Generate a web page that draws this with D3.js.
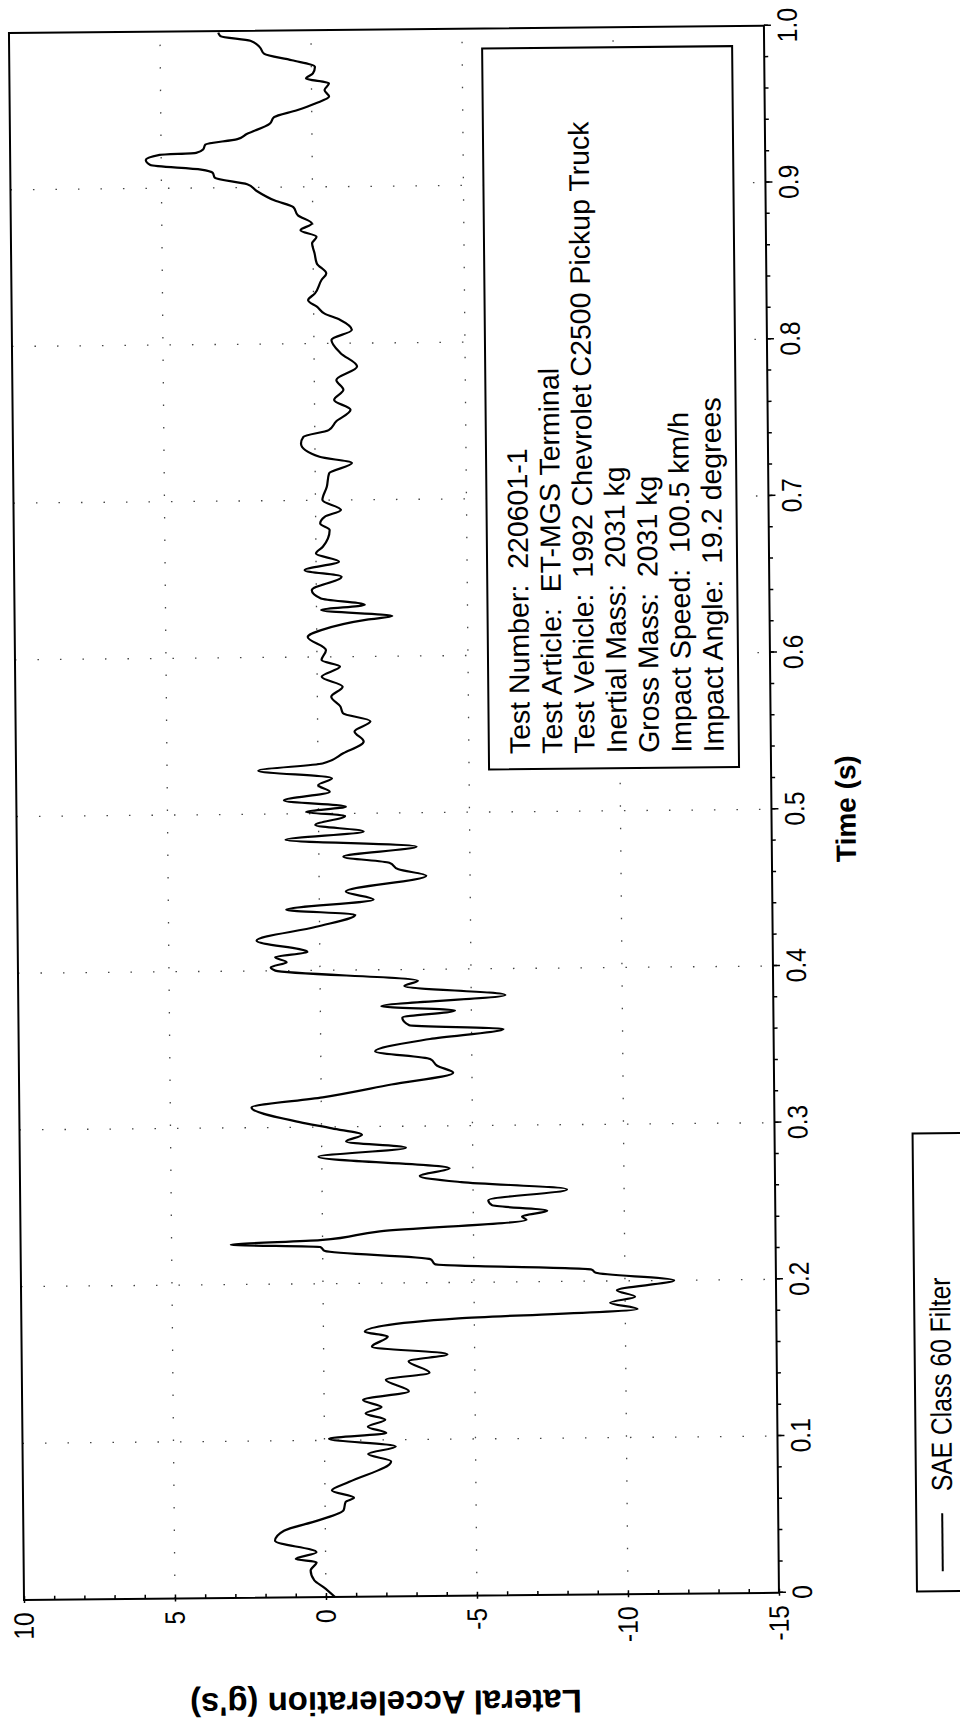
<!DOCTYPE html>
<html>
<head>
<meta charset="utf-8">
<script src="https://cdn.jsdelivr.net/npm/d3@7"></script>
<style>
  html, body { margin: 0; padding: 0; background: #fff; }
  svg { display: block; }
  text { font-family: "Liberation Sans", Arial, sans-serif; fill: #000; }
</style>
</head>
<body>
<svg id="chart" width="960" height="1723"></svg>
<script>
// Lateral acceleration trace (SAE Class 60 filtered), time in seconds
const timeS = [
  0.000, 0.0064, 0.0107, 0.017, 0.0223, 0.0245, 0.0287, 0.0362, 0.0426, 0.049,
  0.0553, 0.0606, 0.0632, 0.068, 0.0734, 0.0862, 0.091, 0.0957, 0.101, 0.1043,
  0.1085, 0.1128, 0.117, 0.1209, 0.1255, 0.1308, 0.1383, 0.1426, 0.150, 0.1542,
  0.1595, 0.1659, 0.1691, 0.1728, 0.177, 0.1819, 0.1861, 0.1898, 0.194, 0.200,
  0.2053, 0.2074, 0.2117, 0.2149, 0.2208, 0.2234, 0.2255, 0.2278, 0.2331, 0.2395,
  0.2417, 0.2452, 0.2491, 0.2523, 0.2587, 0.264, 0.2682, 0.2729, 0.281, 0.2863,
  0.2906, 0.2948, 0.2991, 0.3033, 0.3129, 0.3189, 0.3267, 0.3338, 0.3384, 0.3427,
  0.348, 0.3555, 0.3614, 0.3644, 0.3693, 0.3735, 0.3767, 0.3831, 0.3895, 0.3927,
  0.4001, 0.4022, 0.4054, 0.4086, 0.4118, 0.4193, 0.4278, 0.4352, 0.4389, 0.4448,
  0.4501, 0.4597, 0.464, 0.4682, 0.4724, 0.4784, 0.4835, 0.4884, 0.4927, 0.4984,
  0.5011, 0.5043, 0.5086, 0.5139, 0.5182, 0.5225, 0.5278, 0.532, 0.5384, 0.5458,
  0.5522, 0.5586, 0.564, 0.5682, 0.5745, 0.5809, 0.5873, 0.5937, 0.598, 0.6043,
  0.6128, 0.6171, 0.6235, 0.6256, 0.6299, 0.633, 0.6373, 0.6426, 0.6511, 0.6554,
  0.6607, 0.666, 0.6703, 0.6809, 0.6852, 0.6894, 0.6937, 0.7001, 0.7085, 0.7171,
  0.7235, 0.7277, 0.7362, 0.7405, 0.7447, 0.750, 0.7575, 0.7639, 0.7703, 0.7766,
  0.7851, 0.7937, 0.8022, 0.8085, 0.8149, 0.8192, 0.8234, 0.8277, 0.832, 0.8405,
  0.8447, 0.8511, 0.8575, 0.8639, 0.8681, 0.8724, 0.8766, 0.8819, 0.8872, 0.8915,
  0.8979, 0.9021, 0.9064, 0.9096, 0.9117, 0.9149, 0.9181, 0.9213, 0.9224, 0.9245,
  0.9277, 0.9309, 0.9341, 0.9404, 0.9447, 0.949, 0.9532, 0.9575, 0.9617, 0.966,
  0.9692, 0.9724, 0.9766, 0.9809, 0.9851, 0.9894, 0.9936, 0.9968, 0.999
];
const lateralG = [
  -0.30, 0.08, 0.38, 0.50, 0.30, 0.99, 0.30, 1.67, 1.37, 0.23,
  -0.61, -0.68, -0.96, -0.23, -0.81, -2.20, -1.44, -2.36, -0.15, -2.05,
  -1.44, -2.02, -1.37, -1.90, -1.29, -2.81, -2.05, -3.50, -2.81, -4.10,
  -1.60, -2.13, -1.37, -1.98, -4.48, -10.41, -9.50, -10.33, -9.73, -11.63,
  -9.04, -8.89, -3.72, -3.57, -0.08, 0.08, 3.04, 0.08, -1.90, -6.76,
  -6.61, -7.45, -5.62, -5.50, -8.11, -4.61, -3.24, -4.23, 0.11, -2.79,
  -0.81, -1.34, -0.35, 0.72, 2.31, -0.05, -2.33, -4.38, -3.85, -3.62,
  -1.80, -3.62, -6.06, -2.94, -2.71, -4.46, -2.02, -6.13, -2.79, -3.24,
  1.48, 1.63, 1.10, 1.48, 0.41, 2.09, 0.11, -1.19, 1.10, -1.80,
  -0.88, -3.55, -2.63, -2.33, -0.81, -3.24, 1.10, -1.49, 0.11, -0.88,
  0.41, -0.91, 1.14, -0.38, 0.00, -0.46, 1.98, -0.15, -0.84, -1.52,
  -1.22, -1.75, -0.84, -0.76, -0.46, -0.84, -0.15, -0.76, -0.15, -0.30,
  0.30, -0.15, -1.67, -2.51, -0.15, -1.60, -0.15, 0.15, -0.84, 0.38,
  -0.76, 0.00, -0.23, -0.46, -0.15, -0.30, -0.84, -0.23, -0.38, -0.46,
  -1.22, -0.15, 0.46, 0.38, -0.46, -0.70, -1.19, -0.65, -0.96, -0.73,
  -1.42, -0.88, -0.58, -1.26, -0.88, -0.35, -0.12, 0.18, -0.05, -0.27,
  -0.43, -0.12, -0.05, 0.03, -0.12, 0.41, 0.03, 0.49, 0.64, 1.25,
  1.86, 2.16, 3.23, 3.30, 3.68, 5.36, 5.51, 5.05, 3.84, 3.61,
  3.53, 2.47, 2.16, 1.40, 1.25, 0.49, -0.12, -0.58, -0.43, -0.58,
  0.18, -0.05, -0.12, 0.64, 1.55, 1.70, 2.01, 3.00, 3.07
];

const timeMajor = [0, 0.1, 0.2, 0.3, 0.4, 0.5, 0.6, 0.7, 0.8, 0.9, 1.0];
const timeLabels = ["0", "0.1", "0.2", "0.3", "0.4", "0.5", "0.6", "0.7", "0.8", "0.9", "1.0"];
const accelMajor = [10, 5, 0, -5, -10, -15];
const accelLabels = ["10", "5", "0", "-5", "-10", "-15"];

const timeTitle = "Time (s)";
const accelTitle = "Lateral Acceleration (g's)";
const legendLabel = "SAE Class 60 Filter";
const infoLines = [
  "Test Number:  220601-1",
  "Test Article:  ET-MGS Terminal",
  "Test Vehicle:  1992 Chevrolet C2500 Pickup Truck",
  "Inertial Mass:  2031 kg",
  "Gross Mass:  2031 kg",
  "Impact Speed:  100.5 km/h",
  "Impact Angle:  19.2 degrees"
];

// The plot is laid out as a normal landscape chart and then turned on its side
const W = 1567, H = 755;
const svg = d3.select("#chart");
const g = svg.append("g").attr("transform", "translate(24,1600) rotate(-90.55)");

const x = d3.scaleLinear().domain([0, 1]).range([0, W]);
const y = d3.scaleLinear().domain([-15, 10]).range([H, 0]);

// sparse dotted grid
const grid = g.append("g").attr("stroke", "#444").attr("stroke-width", 1.3)
  .attr("stroke-dasharray", "1.5,21").attr("fill", "none");
grid.selectAll("line.gx").data(timeMajor.slice(1, -1)).join("line")
  .attr("x1", d => x(d)).attr("x2", d => x(d)).attr("y1", 0).attr("y2", H);
grid.selectAll("line.gy").data(accelMajor.slice(1, -1)).join("line")
  .attr("x1", 0).attr("x2", W).attr("y1", d => y(d)).attr("y2", d => y(d));

// tick labels use a slightly condensed face
const tickFont = sel => sel.attr("font-size", 28)
  .attr("font-family", "'Liberation Sans', Arial, sans-serif");

// time axis (bottom of the landscape frame)
const minorTimes = d3.range(0, 51).map(i => i / 50);
g.append("g").attr("transform", `translate(0,${H})`)
  .call(d3.axisBottom(x).tickValues(minorTimes).tickSize(4).tickFormat(""))
  .call(a => a.select(".domain").remove())
  .call(a => a.selectAll("line").attr("stroke-width", 1.5));
g.append("g").attr("transform", `translate(0,${H})`)
  .call(d3.axisBottom(x).tickValues(timeMajor).tickSize(7).tickPadding(6)
    .tickFormat((d, i) => timeLabels[i]))
  .call(a => a.select(".domain").remove())
  .call(a => a.selectAll("line").attr("stroke-width", 1.5))
  .call(a => a.selectAll("text").call(tickFont).attr("transform", "scale(0.88,1)"));

// acceleration axis (left of the landscape frame)
const minorAccel = d3.range(-15, 11);
g.append("g")
  .call(d3.axisLeft(y).tickValues(minorAccel).tickSize(-4).tickFormat(""))
  .call(a => a.select(".domain").remove())
  .call(a => a.selectAll("line").attr("stroke-width", 1.5));
g.append("g")
  .call(d3.axisLeft(y).tickValues(accelMajor).tickSize(3).tickPadding(11)
    .tickFormat((d, i) => accelLabels[i]))
  .call(a => a.select(".domain").remove())
  .call(a => a.selectAll("line").attr("stroke-width", 1.5))
  .call(a => a.selectAll("text").call(tickFont).attr("transform", "scale(0.88,1)"));

// frame
g.append("rect").attr("x", 0).attr("y", 0).attr("width", W).attr("height", H)
  .attr("fill", "none").attr("stroke", "#000").attr("stroke-width", 2);

// trace
const line = d3.line()
  .x((d, i) => x(timeS[i]))
  .y(d => y(d))
  .curve(d3.curveMonotoneX);
g.append("path").datum(lateralG).attr("d", line)
  .attr("fill", "none").attr("stroke", "#000").attr("stroke-width", 2.2)
  .attr("stroke-linejoin", "round");

// info box
const box = g.append("g");
box.append("rect").attr("x", 826).attr("y", 473)
  .attr("width", 1547 - 826).attr("height", 723 - 473)
  .attr("fill", "#fff").attr("stroke", "#000").attr("stroke-width", 2);
box.selectAll("text").data(infoLines).join("text")
  .attr("x", 841)
  .attr("y", (d, i) => 514 + i * 32.3)
  .attr("font-size", 28.5)
  .style("white-space", "pre")
  .text(d => d);

// axis titles
g.append("text").attr("x", W / 2).attr("y", H + 84)
  .attr("text-anchor", "middle").attr("font-size", 28).attr("font-weight", "bold")
  .text(timeTitle);
g.append("text").attr("transform", `translate(-95,361) rotate(-90)`)
  .attr("text-anchor", "middle").attr("font-size", 33).attr("font-weight", "bold")
  .text(accelTitle);

// legend
const leg = g.append("g").attr("transform", `translate(0,${H + 138})`);
leg.append("rect").attr("x", 0).attr("y", 0).attr("width", 458).attr("height", 80)
  .attr("fill", "#fff").attr("stroke", "#000").attr("stroke-width", 2);
leg.append("line").attr("x1", 20).attr("x2", 78).attr("y1", 26).attr("y2", 26)
  .attr("stroke", "#000").attr("stroke-width", 2);
leg.append("text").attr("transform", "translate(100,36) scale(0.85,1)")
  .attr("font-size", 29)
  .text(legendLabel);
</script>
</body>
</html>
